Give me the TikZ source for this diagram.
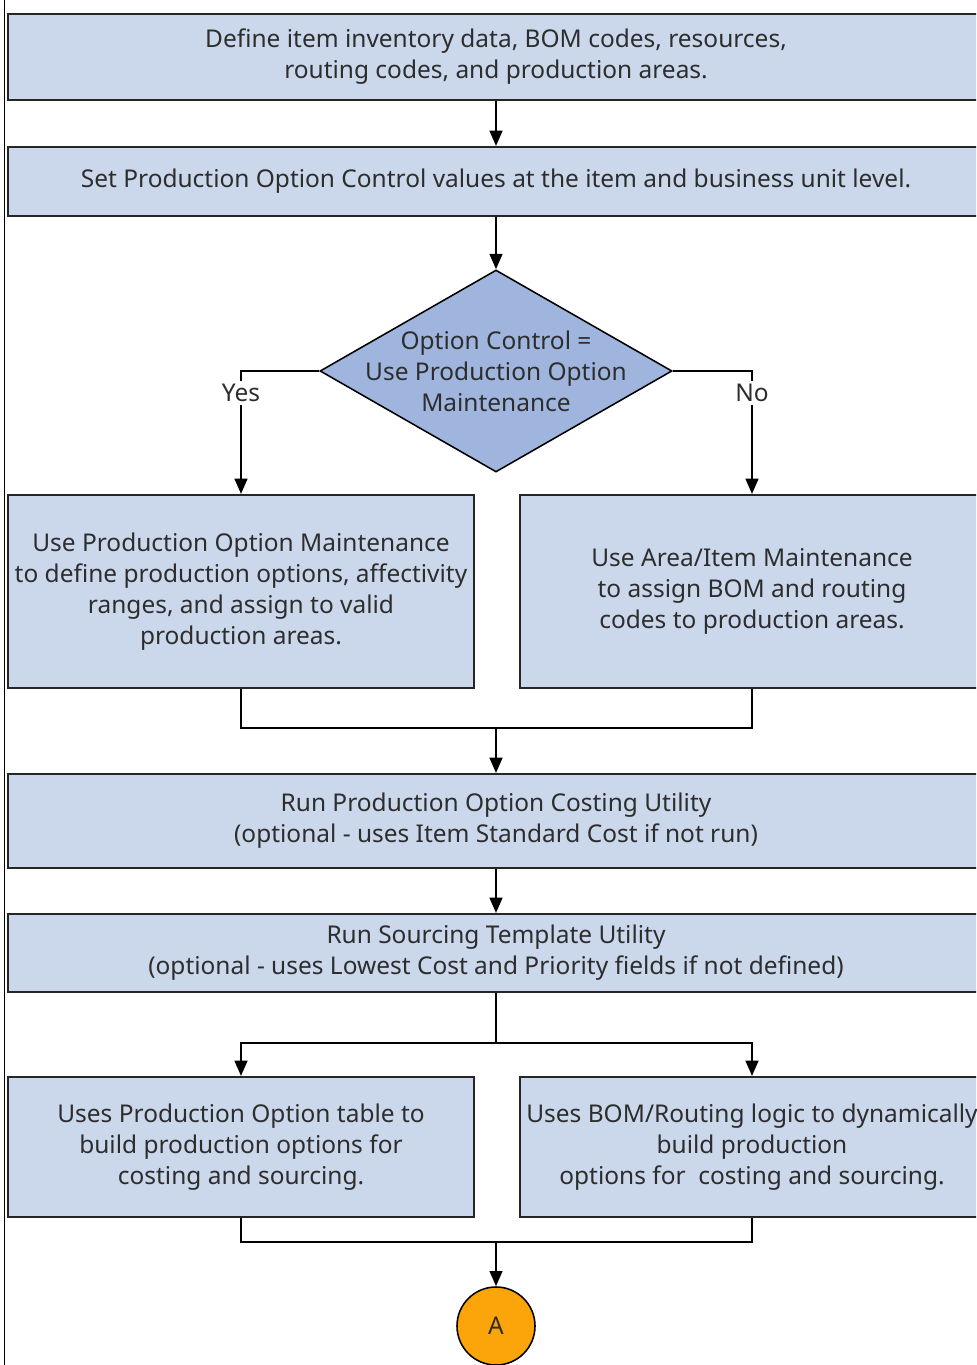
\documentclass[tikz,border=0pt]{standalone}
\usepackage{fontspec}
\setmainfont{Noto Sans}
\usepackage{xcolor}
\usetikzlibrary{arrows.meta, positioning, shapes.geometric}

\definecolor{boxblue}{RGB}{203,216,235}
\definecolor{diablue}{RGB}{160,181,221}
\definecolor{termorange}{RGB}{252,165,10}
\definecolor{txtgray}{RGB}{45,45,45}

\begin{document}
\begin{tikzpicture}[
        x=0.025cm, y=-0.025cm,
        font=\fontsize{17.4}{22}\selectfont,
        text=txtgray,
        box/.style={rectangle, draw=black!85, line width=1.5pt, fill=boxblue, align=center, inner sep=0pt},
        decision/.style={diamond, draw=black, line width=1.1pt, fill=diablue, inner sep=0pt},
        terminal/.style={circle, draw=black, line width=1.1pt, fill=termorange, inner sep=0pt, minimum size=1.95cm},
        connector/.style={line width=1.3pt, draw=black},
        arrow/.style={connector, -{Triangle[length=0.38cm, width=0.32cm]}},
        lbl/.style={fill=white, inner sep=2pt}
    ]
    \useasboundingbox (0,0) rectangle (976,1365);
    \clip (0,0) rectangle (976,1365);

    % Frame line on the left
    \draw[line width=1.1pt] (4.5,0) -- (4.5,1365);

    % Nodes
    \node[box, minimum width=24.4cm, minimum height=2.15cm] (define) at (496,57)
        {Define item inventory data, BOM codes, resources,\\routing codes, and production areas.};
    \node[box, minimum width=24.4cm, minimum height=1.725cm] (setctrl) at (496,181.5)
        {Set Production Option Control values at the item and business unit level.};
    \node[decision, minimum width=8.8cm, minimum height=5.05cm,
        label={[align=center, text=txtgray]center:Option Control =\\Use Production Option\\Maintenance}] (optctrl) at (496,371) {};
    \node[box, minimum width=11.65cm, minimum height=4.825cm] (pomaint) at (241,591.5)
        {Use Production Option Maintenance\\to define production options, affectivity\\ranges, and assign to valid\\production areas.};
    \node[box, minimum width=11.6cm, minimum height=4.825cm] (areamaint) at (752,591.5)
        {Use Area/Item Maintenance\\to assign BOM and routing\\codes to production areas.};
    \node[box, minimum width=24.4cm, minimum height=2.35cm] (costing) at (496,821)
        {Run Production Option Costing Utility\\(optional - uses Item Standard Cost if not run)};
    \node[box, minimum width=24.4cm, minimum height=1.95cm] (sourcing) at (496,953)
        {Run Sourcing Template Utility\\(optional - uses Lowest Cost and Priority fields if not defined)};
    \node[box, minimum width=11.65cm, minimum height=3.5cm] (potable) at (241,1147)
        {Uses Production Option table to\\build production options for\\costing and sourcing.};
    \node[box, minimum width=11.6cm, minimum height=3.5cm] (bomlogic) at (752,1147)
        {Uses BOM/Routing logic to dynamically\\build production\\options for\ \ costing and sourcing.};
    \node[terminal] (conn) at (496,1326) {A};

    % Merge points
    \coordinate (join1) at (496,728);
    \coordinate (split1) at (496,1043);
    \coordinate (join2) at (496,1242);

    % Connectors
    \draw[arrow] (define) -- (setctrl);
    \draw[arrow] (setctrl) -- (optctrl.north);
    \draw[arrow] (optctrl.west) -| node[lbl, pos=0.59] {Yes} (pomaint.north);
    \draw[arrow] (optctrl.east) -| node[lbl, pos=0.59] {No} (areamaint.north);

    \draw[connector] (pomaint.south) |- (join1) -| (areamaint.south);
    \draw[arrow] (join1) -- (costing.north);
    \draw[arrow] (costing) -- (sourcing);

    \draw[connector] (sourcing.south) -- (split1);
    \draw[arrow] (split1) -| (potable.north);
    \draw[arrow] (split1) -| (bomlogic.north);

    \draw[connector] (potable.south) |- (join2) -| (bomlogic.south);
    \draw[arrow] (join2) -- (conn.north);

\end{tikzpicture}
\end{document}
